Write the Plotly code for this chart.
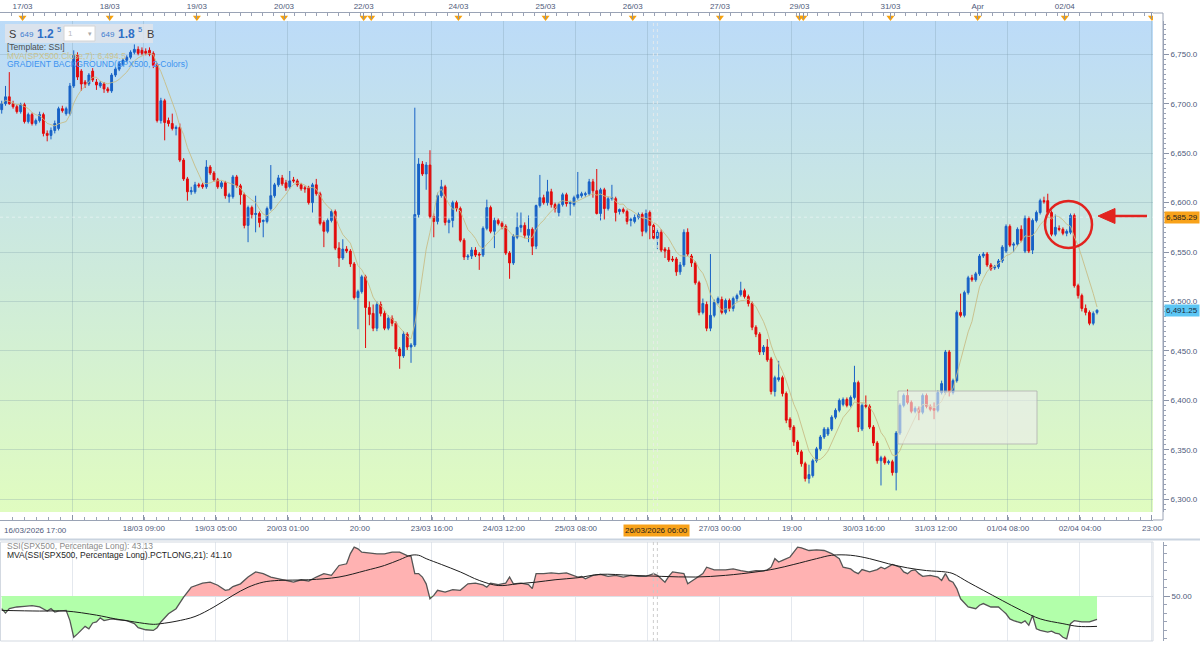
import base64
import numpy as np
import pandas as pd
import plotly.graph_objects as go

W, H = 1200, 645
FONT = "Liberation Sans, Arial, sans-serif"
AXC = "#4e5a7a"

# ---------------- data: hourly SPX500 candles (bar index = hour slot) ----------------
opens = [6694,6700,6707,6700,6697,6692,6699,6682,6689,6680,
         6683,6689,6670,6668,6673,6675,6695,6690,6690,6718,
         6749,6733,6722,6720,6733,6722,6718,6720,6715,6713,
         6729,6735,6740,6744,6747,6752,6755,6754,6753,6754,
         6751,6739,6683,6703,6683,6680,6675,6676,6643,6624,
         6611,6611,6618,6618,6616,6636,6630,6623,6616,6620,
         6606,6606,6626,6617,6608,6577,6595,6588,6589,6581,
         6581,6594,6607,6618,6625,6620,6616,6623,6622,6618,
         6615,6615,6600,6618,6609,6580,6571,6582,6591,6554,
         6544,6553,6551,6538,6504,6510,6525,6494,6488,6473,
         6497,6488,6473,6483,6478,6452,6445,6467,6454,6456,
         6588,6639,6629,6638,6586,6581,6607,6616,6580,6582,
         6600,6594,6562,6545,6546,6552,6548,6547,6574,6595,
         6571,6582,6579,6576,6549,6539,6565,6575,6577,6567,
         6573,6556,6597,6605,6600,6611,6598,6590,6598,6608,
         6599,6598,6605,6607,6608,6609,6621,6612,6589,6613,
         6594,6604,6604,6591,6593,6591,6582,6581,6585,6588,
         6571,6590,6577,6564,6570,6553,6552,6543,6543,6530,
         6537,6570,6546,6539,6519,6489,6497,6473,6486,6499,
         6502,6489,6501,6493,6503,6507,6511,6505,6498,6474,
         6467,6449,6454,6442,6409,6421,6423,6407,6381,6373,
         6358,6348,6336,6321,6324,6339,6351,6363,6366,6371,
         6383,6390,6396,6401,6395,6403,6418,6371,6395,6394,
         6373,6357,6339,6342,6337,6338,6327,6367,6395,6405,
         6398,6389,6392,6388,6405,6394,6392,6390,6408,6408,
         6449,6408,6420,6489,6486,6509,6524,6522,6528,6546,
         6548,6537,6534,6535,6541,6551,6576,6557,6558,6573,
         6551,6584,6552,6582,6590,6602,6602,6590,6568,6574,
         6573,6569,6570,6587,6516,6506,6493,6489,6478,6489]
highs = [6703,6718,6732,6703,6699,6701,6701,6691,6691,6685,
         6692,6691,6673,6676,6683,6697,6698,6697,6721,6754,
         6752,6735,6724,6731,6736,6725,6723,6722,6717,6731,
         6737,6743,6746,6749,6754,6760,6758,6757,6756,6757,
         6753,6741,6706,6705,6686,6690,6678,6680,6645,6626,
         6616,6621,6620,6620,6643,6638,6632,6625,6622,6622,
         6610,6628,6628,6619,6610,6597,6597,6607,6591,6583,
         6596,6638,6620,6628,6628,6623,6632,6626,6624,6620,
         6617,6617,6620,6624,6611,6582,6584,6593,6593,6560,
         6563,6556,6553,6540,6512,6527,6527,6500,6497,6500,
         6500,6491,6486,6486,6480,6454,6470,6469,6458,6696,
         6645,6642,6641,6653,6589,6610,6623,6618,6584,6602,
         6602,6596,6564,6548,6555,6555,6550,6576,6603,6597,
         6585,6584,6581,6578,6551,6568,6590,6590,6580,6587,
         6575,6598,6628,6608,6623,6614,6600,6600,6610,6610,
         6602,6607,6631,6611,6611,6624,6624,6634,6615,6615,
         6606,6618,6606,6594,6595,6593,6585,6588,6590,6590,
         6593,6592,6580,6574,6573,6555,6555,6546,6545,6540,
         6573,6574,6548,6541,6521,6503,6500,6548,6502,6505,
         6505,6503,6503,6505,6508,6520,6513,6507,6500,6476,
         6469,6456,6462,6444,6425,6440,6425,6409,6383,6375,
         6360,6350,6338,6335,6341,6353,6365,6373,6373,6385,
         6392,6402,6403,6403,6405,6435,6420,6397,6405,6396,
         6375,6359,6344,6344,6340,6340,6369,6397,6407,6411,
         6400,6394,6394,6407,6407,6396,6398,6410,6420,6451,
         6451,6422,6491,6508,6511,6526,6527,6530,6548,6550,
         6550,6539,6537,6543,6557,6578,6578,6560,6575,6577,
         6587,6586,6584,6592,6604,6606,6609,6592,6588,6577,
         6575,6573,6589,6589,6518,6508,6497,6491,6490,6492]
lows = [6690,6698,6699,6695,6690,6690,6680,6680,6678,6678,
        6681,6667,6662,6664,6670,6673,6691,6688,6688,6716,
        6724,6713,6716,6718,6722,6714,6716,6711,6711,6711,
        6727,6733,6738,6742,6745,6750,6749,6749,6749,6748,
        6736,6681,6680,6663,6677,6673,6668,6641,6622,6602,
        6608,6609,6615,6614,6614,6628,6621,6614,6614,6604,
        6600,6604,6615,6598,6574,6560,6584,6570,6575,6565,
        6579,6592,6605,6616,6617,6612,6614,6620,6616,6612,
        6610,6598,6590,6607,6577,6555,6569,6580,6552,6535,
        6542,6549,6535,6502,6472,6508,6453,6476,6470,6470,
        6485,6471,6471,6475,6449,6432,6443,6451,6438,6454,
        6585,6627,6613,6584,6565,6578,6605,6577,6569,6575,
        6591,6560,6542,6542,6543,6545,6532,6545,6572,6569,
        6554,6577,6573,6547,6523,6537,6563,6570,6564,6560,
        6547,6553,6595,6598,6597,6595,6590,6586,6596,6596,
        6587,6596,6603,6605,6606,6607,6605,6588,6582,6583,
        6592,6602,6581,6588,6589,6578,6576,6579,6583,6566,
        6569,6563,6562,6553,6550,6544,6540,6540,6526,6527,
        6535,6546,6535,6517,6486,6487,6470,6470,6484,6497,
        6487,6487,6490,6490,6500,6505,6503,6495,6471,6464,
        6446,6446,6439,6406,6404,6419,6404,6377,6370,6354,
        6345,6333,6318,6316,6322,6337,6349,6361,6364,6369,
        6381,6388,6394,6393,6393,6401,6368,6369,6392,6371,
        6354,6336,6314,6335,6335,6324,6309,6365,6393,6396,
        6387,6387,6380,6386,6392,6389,6381,6388,6406,6406,
        6404,6406,6418,6484,6484,6507,6520,6520,6526,6544,
        6535,6531,6532,6533,6539,6549,6555,6550,6556,6560,
        6549,6549,6548,6580,6588,6599,6588,6566,6566,6571,
        6567,6566,6568,6514,6503,6490,6486,6476,6476,6487]
closes = [6700,6707,6700,6697,6692,6699,6682,6689,6680,6683,
          6689,6670,6668,6673,6680,6695,6693,6695,6718,6749,
          6727,6720,6720,6729,6724,6719,6721,6715,6713,6729,
          6735,6741,6744,6747,6752,6755,6751,6751,6751,6750,
          6739,6683,6703,6681,6680,6675,6676,6643,6624,6611,
          6612,6618,6617,6616,6636,6630,6623,6616,6620,6607,
          6608,6626,6617,6608,6577,6595,6588,6589,6580,6582,
          6594,6607,6618,6625,6619,6615,6622,6622,6618,6614,
          6614,6600,6618,6609,6579,6571,6582,6591,6554,6544,
          6553,6551,6538,6504,6510,6525,6494,6487,6473,6497,
          6488,6473,6483,6478,6452,6445,6467,6454,6456,6588,
          6639,6629,6638,6586,6581,6607,6616,6580,6582,6600,
          6594,6562,6545,6546,6552,6547,6547,6574,6595,6571,
          6582,6579,6576,6549,6539,6566,6575,6577,6567,6573,
          6556,6597,6605,6600,6611,6598,6594,6598,6608,6599,
          6600,6605,6608,6609,6609,6621,6612,6589,6613,6594,
          6604,6605,6590,6593,6591,6581,6583,6585,6588,6571,
          6589,6577,6564,6570,6552,6551,6542,6542,6530,6537,
          6570,6548,6539,6519,6489,6498,6473,6486,6499,6503,
          6489,6501,6493,6503,6506,6511,6505,6498,6474,6467,
          6449,6454,6441,6409,6423,6423,6407,6380,6373,6358,
          6348,6336,6321,6325,6339,6351,6363,6371,6371,6383,
          6390,6400,6401,6395,6403,6418,6373,6395,6394,6373,
          6357,6339,6342,6337,6338,6327,6367,6395,6405,6398,
          6389,6392,6388,6405,6394,6391,6390,6408,6417,6449,
          6408,6420,6489,6486,6509,6524,6522,6528,6546,6548,
          6537,6533,6535,6541,6555,6576,6557,6558,6573,6562,
          6584,6551,6582,6590,6602,6601,6590,6568,6575,6573,
          6569,6571,6587,6516,6506,6493,6489,6478,6488,6491.25]
MA_PERIOD = 7
last_close = 6491.25
cursor_price = 6585.29

# SSI (percentage long) readings and its 21-period MVA, sampled at bar indices
ssi_bar = [0,1,2,4,6,8,10,11,12,13,14,15,17,18,19,20,21,22,23,24,25,26,27,29,31,33,35,36,38,40,
           41,42,44,46,48,50,53,55,57,59,60,61,63,65,67,69,71,73,75,77,79,81,83,85,87,89,91,92,93,94,
           95,97,99,101,103,105,107,108,109,110,111,112,113,114,115,117,119,121,123,125,127,128,129,131,
           133,134,135,137,139,140,141,143,145,147,149,152,153,154,156,158,160,162,164,166,168,170,172,
           173,175,176,177,180,181,183,185,186,188,191,193,195,197,199,201,202,203,204,205,206,208,210,
           211,213,215,217,219,221,222,224,225,226,227,229,230,231,232,233,235,237,238,239,240,241,242,
           243,245,247,248,249,250,251,252,253,255,257,258,259,261,263,264,265,266,267,269,270,271,272,
           273,274,276,277,278,279,280,281,282,283,285,287,288,289]
ssi_val = [46.3,45.0,46.3,46.8,47.0,47.2,46.8,46.3,45.6,46.3,45.3,45.6,45.8,42.8,37.9,38.9,40.1,41.1,40.4,42.1,
           42.4,43.6,42.8,43.3,43.0,42.8,41.9,40.7,40.1,39.9,40.7,42.4,44.8,46.3,49.7,52.6,53.8,54.1,53.2,51.7,
           51.9,52.8,53.6,55.6,57.1,56.6,55.6,55.1,54.8,54.1,54.8,54.4,55.6,56.6,56.1,59.0,59.5,62.5,64.4,63.9,
           62.9,62.6,62.4,62.4,62.9,62.9,61.9,61.7,56.6,56.6,55.6,53.6,49.2,50.2,51.7,51.2,51.9,51.7,53.6,53.8,
           53.3,52.6,53.8,53.4,53.8,55.6,53.6,53.8,53.4,52.2,56.6,56.6,56.8,56.6,56.8,55.6,55.8,55.1,56.1,56.4,
           55.8,56.1,55.6,56.1,55.8,55.8,56.6,56.1,54.1,55.8,57.1,56.6,53.6,55.1,56.6,58.5,57.7,57.7,58.0,57.5,
           57.1,57.5,57.4,57.7,58.5,61.0,60.0,60.5,61.5,64.4,64.2,63.4,63.6,63.4,62.5,61.0,58.5,58.0,57.1,56.6,
           57.8,57.1,57.4,57.8,58.5,58.0,59.3,58.5,57.1,56.6,57.5,57.7,56.6,55.8,56.1,55.6,54.6,56.6,54.6,54.1,
           52.2,49.2,46.8,46.3,47.3,47.8,46.8,46.8,45.8,44.8,43.3,42.8,42.1,42.7,41.4,44.3,40.4,39.9,39.4,39.7,
           39.1,38.9,37.9,37.4,41.9,42.8,42.4,42.4,42.8,43.13]
ssi_ma_bar = [0,10,17,25,30,35,40,42,46,51,56,61,65,69,73,81,89,96,101,105,108,110,112,116,121,126,131,136,
              141,146,152,158,166,174,183,191,199,204,209,215,219,224,229,234,239,244,249,251,255,259,264,269,
              274,280,284,289]
ssi_ma_val = [45.8,45.6,45.6,44.4,43.3,42.4,41.7,41.9,42.6,44.0,46.8,50.2,52.6,54.1,54.6,54.8,55.6,57.5,59.0,
              60.7,62.0,62.0,61.0,59.3,57.1,54.6,53.1,53.6,54.1,54.8,55.4,56.4,56.1,55.8,55.6,56.1,57.1,58.0,
              59.3,61.0,62.0,62.0,61.0,59.5,58.3,57.5,57.1,56.6,54.1,51.7,48.7,45.8,43.3,41.9,41.1,41.1]
ssi_level = 50.0

# time axis labels (bar index -> label)
bottom_tick_bars = [18.55, 37.5, 56.5, 75.5, 94.5, 113.5, 132.5, 151.5, 170.5, 189.5, 208.5, 227.5,
                    246.5, 265.5, 284.5, 303.5]
bottom_tick_text = ["", "18/03 09:00", "19/03 05:00", "20/03 01:00", "20:00", "23/03 16:00",
                    "24/03 12:00", "25/03 08:00", "", "27/03 00:00", "19:00", "30/03 16:00",
                    "31/03 12:00", "01/04 08:00", "02/04 04:00", "23:00"]
day_start_bars = [5.5, 28.5, 51.5, 74.5, 95.5, 97.5, 120.5, 143.5, 166.5, 189.5, 210.5, 211.5,
                  234.5, 257.5, 280.5, 303.5]
day_labels = ["17/03", "18/03", "19/03", "20/03", "22/03", "", "24/03", "25/03", "26/03", "27/03",
              "29/03", "", "31/03", "Apr", "02/04", ""]
cursor_bar = 172.5

# ---------------- helpers ----------------
def px(x):
    return x / W


def py(y):
    return 1 - y / H


BARPX = 3.79
X0 = -0.45
XR = [X0, X0 + 1153 / BARPX]
Y_TOP_PX, Y_BOT_PX = 21, 512
P_AT_54 = 6750.0
PPX = 0.9889
YR = [P_AT_54 - (Y_BOT_PX - 54.3) / PPX, P_AT_54 + (54.3 - Y_TOP_PX) / PPX]
Y2R = [36.8, 65.9]

bars = list(range(len(closes)))
ma = pd.Series(closes).rolling(MA_PERIOD, min_periods=1).mean()

fig = go.Figure()

# candles
fig.add_trace(go.Candlestick(
    x=bars, open=opens, high=highs, low=lows, close=closes,
    increasing=dict(line=dict(color="#1862c6", width=1), fillcolor="#1862c6"),
    decreasing=dict(line=dict(color="#e30b0b", width=1), fillcolor="#e30b0b"),
    whiskerwidth=0, xaxis="x", yaxis="y", hoverinfo="skip", showlegend=False))
fig.add_trace(go.Scatter(x=bars, y=ma, mode="lines", line=dict(color="rgba(200,190,135,0.9)", width=1),
                         xaxis="x", yaxis="y", hoverinfo="skip", showlegend=False))

# top strip day markers
fig.add_trace(go.Scatter(x=day_start_bars, y=[0.45] * len(day_start_bars), mode="markers",
                         marker=dict(symbol="triangle-down", size=7, color="#f5a10f"),
                         xaxis="x2", yaxis="y3", hoverinfo="skip", showlegend=False))


# SSI panel fills
def with_crossings(xs, ys, level):
    xo, yo = [], []
    for i in range(len(xs)):
        if i > 0 and (ys[i - 1] - level) * (ys[i] - level) < 0:
            t = (level - ys[i - 1]) / (ys[i] - ys[i - 1])
            xo.append(xs[i - 1] + t * (xs[i] - xs[i - 1]))
            yo.append(level)
        xo.append(xs[i])
        yo.append(ys[i])
    return np.array(xo, float), np.array(yo, float)


sx, sy = with_crossings(ssi_bar, ssi_val, ssi_level)
base = np.full(len(sx), ssi_level)
fig.add_trace(go.Scatter(x=sx, y=base, mode="lines", line=dict(width=0), xaxis="x3", yaxis="y2",
                         hoverinfo="skip", showlegend=False))
fig.add_trace(go.Scatter(x=sx, y=np.maximum(sy, ssi_level), mode="lines", line=dict(width=0),
                         fill="tonexty", fillcolor="rgb(255,178,178)", xaxis="x3", yaxis="y2",
                         hoverinfo="skip", showlegend=False))
fig.add_trace(go.Scatter(x=sx, y=base, mode="lines", line=dict(width=0), xaxis="x3", yaxis="y2",
                         hoverinfo="skip", showlegend=False))
fig.add_trace(go.Scatter(x=sx, y=np.minimum(sy, ssi_level), mode="lines", line=dict(width=0),
                         fill="tonexty", fillcolor="rgb(178,255,170)", xaxis="x3", yaxis="y2",
                         hoverinfo="skip", showlegend=False))
fig.add_trace(go.Scatter(x=ssi_bar, y=ssi_val, mode="lines", line=dict(color="#555555", width=1.3),
                         xaxis="x3", yaxis="y2", hoverinfo="skip", showlegend=False))
fig.add_trace(go.Scatter(x=ssi_ma_bar, y=ssi_ma_val, mode="lines", line=dict(color="#1e1e1e", width=1, shape="spline"),
                         xaxis="x3", yaxis="y2", hoverinfo="skip", showlegend=False))

GRID = "rgba(120,150,165,0.28)"
tickfont = dict(family=FONT, size=8, color=AXC)

layout = dict(
    width=W, height=H, margin=dict(l=0, r=0, t=0, b=0, autoexpand=False),
    paper_bgcolor="white", plot_bgcolor="rgba(0,0,0,0)", showlegend=False,
    font=dict(family=FONT, size=8, color=AXC),
    xaxis=dict(domain=[0, px(1153)], range=XR, anchor="free", position=py(520), side="bottom",
               tickmode="array", tickvals=bottom_tick_bars, ticktext=bottom_tick_text,
               ticks="inside", ticklen=5, tickcolor="#8a93a8", tickfont=tickfont,
               minor=dict(dtick=19 / 6, tick0=X0, ticks="inside", ticklen=3, tickcolor="#9aa2b5", showgrid=False),
               showgrid=True, gridcolor=GRID, gridwidth=1, zeroline=False, automargin=False,
               showline=True, linecolor="#9aa3b5", linewidth=1,
               rangeslider=dict(visible=False), fixedrange=True),
    yaxis=dict(domain=[py(Y_BOT_PX), py(Y_TOP_PX)], range=YR, anchor="free", position=px(1163), side="right",
               tickmode="array", tickvals=list(range(6300, 6751, 50)), tickformat=",.1f",
               ticks="outside", ticklen=5, tickcolor="#8a93a8", tickfont=tickfont,
               minor=dict(dtick=5, ticks="outside", ticklen=2, tickcolor="#9aa2b5", showgrid=False),
               showgrid=True, gridcolor=GRID, zeroline=False, automargin=False,
               showline=True, linecolor="#9aa3b5", linewidth=1),
    xaxis2=dict(domain=[0, px(1153)], range=XR, anchor="y3", side="top",
                tickmode="array", tickvals=day_start_bars, ticktext=day_labels,
                ticks="inside", ticklen=6, tickcolor="#8a93a8", tickfont=tickfont,
                minor=dict(dtick=23 / 8, tick0=5.5, ticks="inside", ticklen=3, tickcolor="#9aa2b5", showgrid=False),
                showgrid=False, zeroline=False, showline=True, linecolor="#9aa3b5", linewidth=1,
                automargin=False),
    yaxis3=dict(domain=[py(21), py(13)], range=[0, 1], visible=False, anchor="x2", automargin=False),
    xaxis3=dict(domain=[0, px(1153)], range=XR, anchor="y2", tickmode="array", tickvals=bottom_tick_bars,
                showticklabels=False, ticks="", showgrid=True, gridcolor="#e4e8ee", zeroline=False,
                showline=False, automargin=False),
    yaxis2=dict(domain=[py(641), py(542)], range=Y2R, anchor="free", position=px(1163), side="right",
                tickmode="array", tickvals=[50], ticktext=["50.00"], ticks="outside", ticklen=6,
                tickcolor="#8a93a8", tickfont=tickfont,
                minor=dict(dtick=2.5, tick0=50, ticks="outside", ticklen=3, tickcolor="#9aa2b5", showgrid=False),
                showgrid=True, gridcolor="#dde2e8", zeroline=False, automargin=False,
                showline=True, linecolor="#9aa3b5", linewidth=1),
)
fig.update_layout(**layout)

# gradient background for the price panel
svg = ('<svg xmlns="http://www.w3.org/2000/svg" width="10" height="100" preserveAspectRatio="none">'
       '<defs><linearGradient id="g" x1="0" y1="0" x2="0" y2="1">'
       '<stop offset="0" stop-color="#bcdbf8"/><stop offset="0.5" stop-color="#cdeadc"/>'
       '<stop offset="1" stop-color="#e0fcc0"/></linearGradient></defs>'
       '<rect width="10" height="100" fill="url(#g)"/></svg>')
src = "data:image/svg+xml;base64," + base64.b64encode(svg.encode()).decode()
fig.add_layout_image(dict(source=src, xref="paper", yref="paper", x=0, y=py(Y_TOP_PX),
                          sizex=px(1153), sizey=(Y_BOT_PX - Y_TOP_PX) / H, sizing="stretch",
                          xanchor="left", yanchor="top", layer="below"))

shapes = []
def pline(x0, y0, x1, y1, color, width=1, dash=None):
    d = dict(type="line", xref="paper", yref="paper", x0=px(x0), y0=py(y0), x1=px(x1), y1=py(y1),
             line=dict(color=color, width=width))
    if dash:
        d["line"]["dash"] = dash
    return d

# frame lines
shapes.append(pline(1153, 13, 1163, 13, "#9aa3b5"))
shapes.append(pline(1163, 13, 1163, 520, "#9aa3b5"))
shapes.append(pline(1153, 520, 1163, 520, "#9aa3b5"))
shapes.append(pline(0, 539.5, 1200, 539.5, "#c9d3df", 2))
shapes.append(dict(type="rect", xref="paper", yref="paper", x0=px(0.5), x1=px(1153), y0=py(641), y1=py(542),
                   line=dict(color="#d3d9e1", width=1)))
# crosshair
for cb in (cursor_bar - 0.55, cursor_bar + 0.5):
    shapes.append(dict(type="line", xref="x", yref="paper", x0=cb, x1=cb, y0=py(Y_BOT_PX), y1=py(Y_TOP_PX),
                       line=dict(color="rgba(235,235,235,0.8)", width=1, dash="dot")))
    shapes.append(dict(type="line", xref="x", yref="paper", x0=cb, x1=cb, y0=py(641), y1=py(542),
                       line=dict(color="rgba(200,200,200,0.9)", width=1, dash="dot")))
shapes.append(dict(type="line", xref="paper", yref="y", x0=0, x1=px(1153), y0=cursor_price, y1=cursor_price,
                   line=dict(color="rgba(255,255,255,0.45)", width=1, dash="dot")))
# drawn grey box
shapes.append(dict(type="rect", xref="paper", yref="paper", x0=px(898), x1=px(1037), y0=py(444), y1=py(391),
                   fillcolor="rgba(236,236,236,0.6)", line=dict(color="rgba(175,175,175,0.8)", width=1)))
# red circle + arrow
shapes.append(dict(type="circle", xref="paper", yref="paper", x0=px(1045), x1=px(1092), y0=py(248), y1=py(201),
                   line=dict(color="#e2231f", width=2.5)))
shapes.append(pline(1147, 216, 1112, 216, "#e2231f", 2.5))
shapes.append(dict(type="path", xref="paper", yref="paper",
                   path=f"M {px(1098)},{py(216)} L {px(1115)},{py(208.5)} L {px(1115)},{py(223.5)} Z",
                   fillcolor="#e2231f", line=dict(color="#e2231f", width=1)))
# widget box
shapes.append(dict(type="rect", xref="paper", yref="paper", x0=px(5), x1=px(153), y0=py(43), y1=py(24),
                   fillcolor="rgba(226,229,234,0.8)", line=dict(width=0)))
shapes.append(dict(type="rect", xref="paper", yref="paper", x0=px(64), x1=px(95), y0=py(41), y1=py(26),
                   fillcolor="white", line=dict(color="#d4d4d4", width=1)))
fig.update_layout(shapes=shapes)

ann = []
def txt(x, y, s, size=8, color="#333", anchor="left", **kw):
    d = dict(x=px(x), y=py(y), xref="paper", yref="paper", text=s, showarrow=False, xanchor=anchor,
             yanchor="middle", font=dict(family=FONT, size=size, color=color))
    d.update(kw)
    return d

ann.append(txt(2, 530, "16/03/2026 17:00", 8, AXC))
ann.append(txt(656, 530, "26/03/2026 06:00", 8, "#1b1b1b", "center", bgcolor="#f8a21a", borderpad=1))
ann.append(dict(x=px(1164), y=cursor_price, xref="paper", yref="y", text=f"{cursor_price:,.2f}", showarrow=False,
                xanchor="left", yanchor="middle", bgcolor="#f8a21a", borderpad=1,
                font=dict(family=FONT, size=8, color="#222")))
ann.append(dict(x=px(1164), y=last_close, xref="paper", yref="y", text=f"{last_close:,.2f}", showarrow=False,
                xanchor="left", yanchor="middle", bgcolor="#5cc6f4", borderpad=1,
                font=dict(family=FONT, size=8, color="#1a2a3a")))
# widget
ann.append(txt(7, 33.5, "S", 11, "#3a3a3a"))
ann.append(txt(18, 34.5, "649", 8, "#3d7dd0"))
ann.append(txt(35, 33.5, "<b>1.2</b>", 12, "#2e6fc6"))
ann.append(txt(55, 29, "5", 7.5, "#2e6fc6"))
ann.append(txt(66, 33.5, "1", 8, "#bbbbbb"))
ann.append(txt(86, 33.5, "▾", 7, "#aaaaaa"))
ann.append(txt(99, 34.5, "649", 8, "#3d7dd0"))
ann.append(txt(116, 33.5, "<b>1.8</b>", 12, "#2e6fc6"))
ann.append(txt(136, 29, "5", 7.5, "#2e6fc6"))
ann.append(txt(145, 33.5, "B", 11, "#3a3a3a"))
# legends
ann.append(txt(5, 47, "[Template: SSI]", 8.5, "#4d4d4d"))
ann.append(txt(5, 55.5, f"MVA(SPX500.Close,{MA_PERIOD}): {ma.iloc[-1]:,.1f}", 8.5, "#cbc48f"))
ann.append(txt(5, 64, "GRADIENT BACKGROUND(SPX500, 2-Colors)", 8.5, "#3b93f0"))
ann.append(txt(5, 546, f"SSI(SPX500, Percentage Long): {ssi_val[-1]:.2f}", 8.5, "#8a8a8a"))
ann.append(txt(5, 555, f"MVA(SSI(SPX500, Percentage Long).PCTLONG,21): {ssi_ma_val[-1]:.2f}", 8.5, "#1e1e1e"))
fig.update_layout(annotations=ann)

fig.write_html("out.html", config={"displayModeBar": False, "staticPlot": True},
               post_script="document.body.style.margin='0';document.body.style.overflow='hidden';")
